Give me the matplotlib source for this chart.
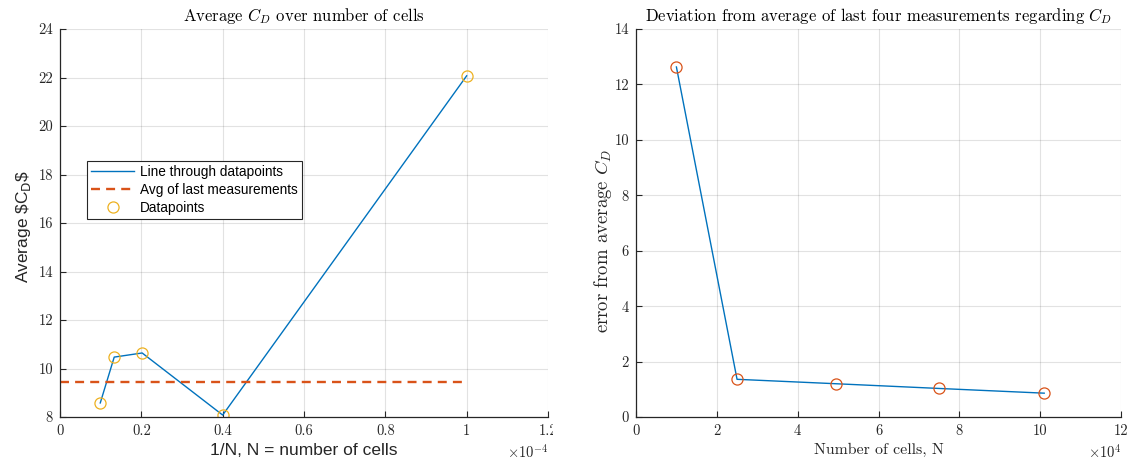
import matplotlib

matplotlib.use("Agg")
import matplotlib.pyplot as plt
from matplotlib.transforms import Bbox, TransformedBbox

# cell counts and measured average drag coefficient
n_cells = [10000, 25000, 49500, 75000, 101000]
cd_avg = [22.07, 8.08, 10.64, 10.47, 8.58]
cd_last_avg = 9.44
cd_error = [12.63, 1.36, 1.20, 1.03, 0.86]

left_xticks = [0, 0.2, 0.4, 0.6, 0.8, 1, 1.2]
left_yticks = [8, 10, 12, 14, 16, 18, 20, 22, 24]
right_xticks = [0, 2, 4, 6, 8, 10, 12]
right_yticks = [0, 2, 4, 6, 8, 10, 12, 14]

BLUE = "#0072BD"
ORANGE = "#D95319"
YELLOW = "#EDB120"
INK = "#262626"
SERIF = "cmr10"
SANS = "Liberation Sans"

plt.rcParams["mathtext.fontset"] = "cm"
plt.rcParams["axes.unicode_minus"] = False


def style_axes(ax, xticks, yticks):
    for side in ("top", "right"):
        ax.spines[side].set_visible(False)
    for side in ("left", "bottom"):
        ax.spines[side].set_color(INK)
        ax.spines[side].set_linewidth(0.9)
    ax.set_xticks(xticks)
    ax.set_yticks(yticks)
    ax.set_xticklabels([f"{t:g}" for t in xticks], fontfamily=SERIF, fontsize=10.5, color=INK)
    ax.set_yticklabels([f"{t:g}" for t in yticks], fontfamily=SERIF, fontsize=10.5, color=INK)
    ax.tick_params(direction="in", length=4, width=0.8, color=INK, pad=5)
    ax.grid(True, color=INK, alpha=0.13, linewidth=0.8)
    ax.set_axisbelow(True)


fig = plt.figure(figsize=(11.37, 4.68), dpi=100)
ax1 = fig.add_axes([60 / 1137, 51 / 468, 488 / 1137, 388 / 468])
ax2 = fig.add_axes([636 / 1137, 51 / 468, 485 / 1137, 388 / 468])

# left: average Cd against 1/N
inv_n = [1e4 / n for n in n_cells]
ax1.plot(inv_n, cd_avg, color=BLUE, lw=1.0, label="Line through datapoints")
ax1.plot([0, 1], [cd_last_avg, cd_last_avg], color=ORANGE, lw=1.7,
         linestyle=(0, (3.8, 2.6)), label="Avg of last measurements")
ax1.plot(inv_n, cd_avg, linestyle="none", marker="o", ms=8, mfc="none",
         mec=YELLOW, mew=0.9, label="Datapoints")
ax1.set_xlim(0, 1.2)
ax1.set_ylim(8, 24)
style_axes(ax1, left_xticks, left_yticks)
ax1.set_title(r"Average $C_D$ over number of cells", fontfamily=SERIF, fontsize=12, pad=6)
ax1.set_xlabel("1/N, N = number of cells", fontfamily=SANS, fontsize=12.5, color=INK, labelpad=4)
ax1.set_ylabel(r"Average \$C$_\mathrm{D}$\$", fontfamily=SANS, fontsize=12.5, color=INK,
               math_fontfamily="dejavusans")
ax1.yaxis.set_label_coords(-0.055, 0.49)
ax1.text(1.0, -0.067, r"$\times10^{-4}$", transform=ax1.transAxes, ha="right", va="top",
         fontsize=10.5, color=INK)
leg = ax1.legend(loc="upper left", bbox_to_anchor=(0.055, 0.66), prop={"family": SANS, "size": 9.8},
                 fancybox=False, framealpha=1, edgecolor=INK, borderpad=0.3,
                 handlelength=3.2, handletextpad=0.4, labelspacing=0.3, borderaxespad=0)
leg.get_frame().set_linewidth(0.8)

# the 1.2 tick label is cut off at the panel edge in the original
clip = TransformedBbox(Bbox([[0, 0], [553 / 1137, 1]]), fig.transFigure)
last_lbl = ax1.get_xticklabels()[-1]
last_lbl.set_clip_on(True)
last_lbl.set_clip_box(clip)

# right: deviation from average against N
n_scaled = [n / 1e4 for n in n_cells]
ax2.plot(n_scaled, cd_error, color=BLUE, lw=1.0)
ax2.plot(n_scaled, cd_error, linestyle="none", marker="o", ms=8, mfc="none",
         mec=ORANGE, mew=0.9)
ax2.set_xlim(0, 12)
ax2.set_ylim(0, 14)
style_axes(ax2, right_xticks, right_yticks)
ax2.set_title(r"Deviation from average of last four measurements regarding $C_D$",
              fontfamily=SERIF, fontsize=12, pad=6)
ax2.set_xlabel("Number of cells, N", fontfamily=SERIF, fontsize=11.4, color=INK, labelpad=4)
ax2.set_ylabel(r"error from average $C_D$", fontfamily=SERIF, fontsize=13.5, color=INK)
ax2.yaxis.set_label_coords(-0.045, 0.455)
ax2.text(1.0, -0.067, r"$\times10^{4}$", transform=ax2.transAxes, ha="right", va="top",
         fontsize=10.5, color=INK)

fig.savefig("out.png", dpi=100)
